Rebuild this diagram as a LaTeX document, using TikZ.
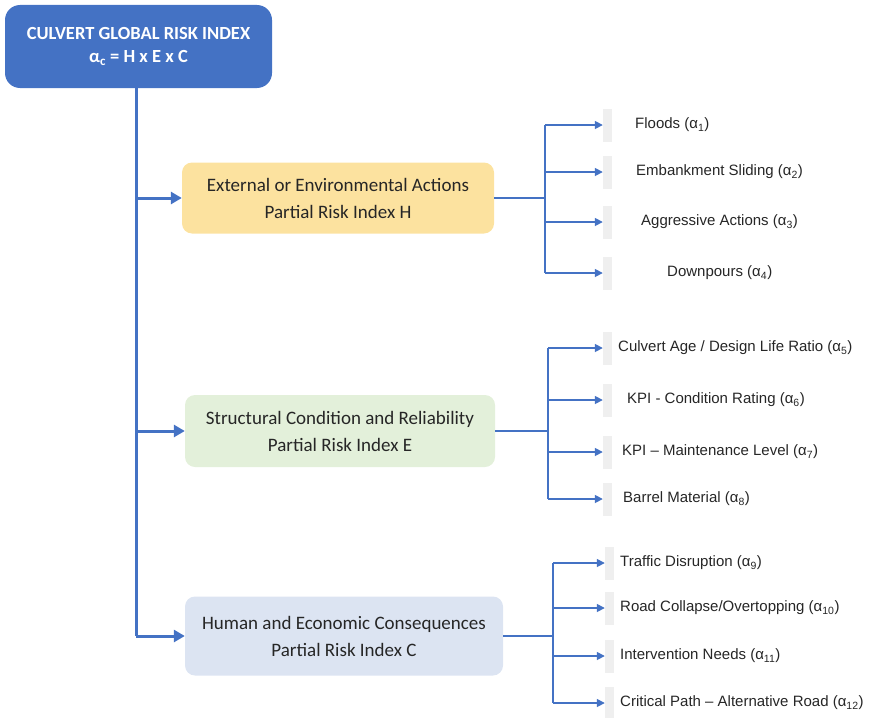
\documentclass[tikz,border=0pt]{standalone}
\usepackage{fontspec}
\setmainfont{Liberation Sans}
\newfontfamily\boxfont{Carlito}
\usepackage{tikz}
\usetikzlibrary{arrows.meta, positioning}

\definecolor{riskblue}{HTML}{4472C4}
\definecolor{hazfill}{HTML}{FCE29F}
\definecolor{expfill}{HTML}{E3F0DA}
\definecolor{consfill}{HTML}{DCE4F2}
\definecolor{barfill}{HTML}{EFEFEF}

\tikzset{
    indexbox/.style={rounded corners=10pt, align=center, inner sep=0pt, font=\boxfont\fontsize{19}{27}\selectfont, text=black!85},
    mainarrow/.style={draw=riskblue, line width=3pt, -{Triangle[length=11pt, width=12pt]}},
    leafline/.style={draw=riskblue, line width=1.6pt},
    leafarrow/.style={leafline, -{Triangle[length=8pt, width=8pt]}},
    leafbar/.style={fill=barfill, minimum width=9pt, minimum height=33pt, inner sep=0pt},
    leaf/.style={anchor=west, inner sep=0pt, font=\fontsize{15}{17}\selectfont, text=black!85}
}

\begin{document}
\begin{tikzpicture}[x=1pt, y=-1pt]
                    \useasboundingbox (0,0) rectangle (877,717);
                    % Global index
                    \node[indexbox, fill=riskblue, rounded corners=15pt, text=white, minimum width=267pt, minimum height=83pt,
                          font=\boxfont\bfseries\fontsize{18.5}{23}\selectfont] (top) at (138.5,46.5)
                          {CULVERT GLOBAL RISK INDEX\\ α\textsubscript{c} = H x E x C};
                    % Partial indices
                    \node[indexbox, fill=hazfill, minimum width=312pt, minimum height=71pt] (h) at (338,198)
                          {External or Environmental Actions\\ Partial Risk Index H};
                    \node[indexbox, fill=expfill, minimum width=310pt, minimum height=72pt] (e) at (340,431)
                          {Structural Condition and Reliability\\ Partial Risk Index E};
                    \node[indexbox, fill=consfill, minimum width=318pt, minimum height=79pt] (c) at (344,636)
                          {Human and Economic Consequences\\ Partial Risk Index C};
                    % Trunk
                    \coordinate (tx) at (136,0);
                    \draw[leafline, line width=3pt] (top.south -| tx) -- (tx |- c.west);
                    \draw[mainarrow] (tx |- h.west) -- (h.west);
                    \draw[mainarrow] (tx |- e.west) -- (e.west);
                    \draw[mainarrow] (tx |- c.west) -- (c.west);
                    % Bars in front of the factors
                    \node[leafbar] (b1) at (607.5,125) {};
                    \node[leafbar] (b2) at (607.5,172) {};
                    \node[leafbar] (b3) at (607.5,222) {};
                    \node[leafbar] (b4) at (607.5,273) {};
                    \node[leafbar] (b5) at (607.5,348) {};
                    \node[leafbar] (b6) at (607.5,400) {};
                    \node[leafbar] (b7) at (607.5,452) {};
                    \node[leafbar] (b8) at (607.5,499) {};
                    \node[leafbar] (b9) at (609.5,563) {};
                    \node[leafbar] (b10) at (609.5,608) {};
                    \node[leafbar] (b11) at (609.5,656) {};
                    \node[leafbar] (b12) at (609.5,703) {};
                    % Factors
                    \node[leaf] (f1) at (635,125) {Floods (α\textsubscript{1})};
                    \node[leaf] (f2) at (636,172) {Embankment Sliding (α\textsubscript{2})};
                    \node[leaf] (f3) at (641,222) {Aggressive Actions (α\textsubscript{3})};
                    \node[leaf] (f4) at (667,273) {Downpours (α\textsubscript{4})};
                    \node[leaf] (f5) at (618,348) {Culvert Age / Design Life Ratio (α\textsubscript{5})};
                    \node[leaf] (f6) at (627,400) {KPI - Condition Rating (α\textsubscript{6})};
                    \node[leaf] (f7) at (622,452) {KPI -- Maintenance Level (α\textsubscript{7})};
                    \node[leaf] (f8) at (623,499) {Barrel Material (α\textsubscript{8})};
                    \node[leaf] (f9) at (620,563) {Traffic Disruption (α\textsubscript{9})};
                    \node[leaf] (f10) at (620,608) {Road Collapse/Overtopping (α\textsubscript{10})};
                    \node[leaf] (f11) at (620,656) {Intervention Needs (α\textsubscript{11})};
                    \node[leaf] (f12) at (620,703) {Critical Path -- Alternative Road (α\textsubscript{12})};
                    % Branches of H
                    \coordinate (hj) at (545,0);
                    \draw[leafline] (h.east) -- (hj |- h.east);
                    \draw[leafline] (hj |- b1) -- (hj |- b4);
                    \draw[leafarrow] (hj |- b1) -- (b1.west);
                    \draw[leafarrow] (hj |- b2) -- (b2.west);
                    \draw[leafarrow] (hj |- b3) -- (b3.west);
                    \draw[leafarrow] (hj |- b4) -- (b4.west);
                    % Branches of E
                    \coordinate (ej) at (548,0);
                    \draw[leafline] (e.east) -- (ej |- e.east);
                    \draw[leafline] (ej |- b5) -- (ej |- b8);
                    \draw[leafarrow] (ej |- b5) -- (b5.west);
                    \draw[leafarrow] (ej |- b6) -- (b6.west);
                    \draw[leafarrow] (ej |- b7) -- (b7.west);
                    \draw[leafarrow] (ej |- b8) -- (b8.west);
                    % Branches of C
                    \coordinate (cj) at (553,0);
                    \draw[leafline] (c.east) -- (cj |- c.east);
                    \draw[leafline] (cj |- b9) -- (cj |- b12);
                    \draw[leafarrow] (cj |- b9) -- (b9.west);
                    \draw[leafarrow] (cj |- b10) -- (b10.west);
                    \draw[leafarrow] (cj |- b11) -- (b11.west);
                    \draw[leafarrow] (cj |- b12) -- (b12.west);
                \end{tikzpicture}
\end{document}
